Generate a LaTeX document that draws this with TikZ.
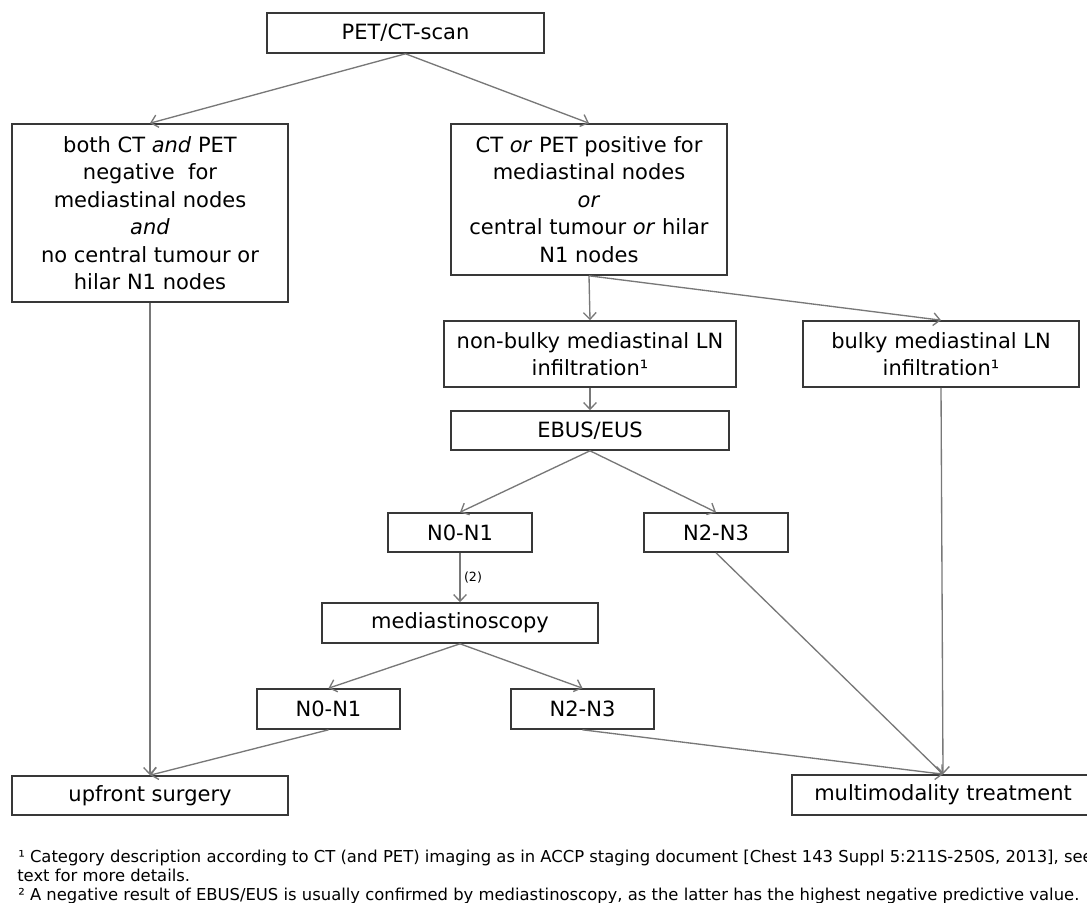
\documentclass[tikz,border=0pt]{standalone}
\usepackage{fontspec}
\setmainfont{DejaVu Sans}
\usetikzlibrary{arrows.meta}
\definecolor{boxline}{HTML}{383838}
\definecolor{arrowline}{HTML}{787878}
\begin{document}
\begin{tikzpicture}[x=0.75pt,y=-0.75pt,
  box/.style={draw=boxline, line width=1.2pt, inner sep=0pt, align=center,
    font=\fontsize{15.75pt}{20.6pt}\selectfont, text=black},
  wh/.style 2 args={minimum width=#1*0.75pt, minimum height=#2*0.75pt},
  conn/.style={draw=arrowline, line width=1pt, -{Straight Barb[length=5pt,width=9.5pt]}},
  foot/.style={anchor=base west, inner sep=0pt, font=\fontsize{12.3pt}{14.25pt}\selectfont, text=black},
  lbl/.style={font=\fontsize{9.5pt}{10pt}\selectfont, inner sep=2.5pt, text=black}]
\useasboundingbox (0,0) rectangle (1087,902);

\node[box, wh={277}{40}] (pet) at (405.5,33) {PET/CT-scan};
\node[box, wh={276}{178}] (left) at (150,213) {both CT \textit{and} PET\\negative\ \ for\\mediastinal nodes\\\textit{and}\\no central tumour or\\hilar N1 nodes};
\node[box, wh={276}{151}] (right) at (589,199.5) {CT \textit{or} PET positive for\\mediastinal nodes\\\textit{or}\\central tumour \textit{or} hilar\\N1 nodes};
\node[box, wh={292}{66}] (nonbulky) at (590,354) {non-bulky mediastinal LN\\infiltration¹};
\node[box, wh={276}{66}] (bulky) at (941,354) {bulky mediastinal LN\\infiltration¹};
\node[box, wh={278}{39}] (ebus) at (590,430.5) {EBUS/EUS};
\node[box, wh={144}{39}] (n01) at (460,532.5) {N0-N1};
\node[box, wh={144}{39}] (n23) at (716,532.5) {N2-N3};
\node[box, wh={276}{40}] (medi) at (460,623) {mediastinoscopy};
\node[box, wh={143}{40}] (n01b) at (328.5,709) {N0-N1};
\node[box, wh={143}{40}] (n23b) at (582.5,709) {N2-N3};
\node[box, wh={276}{39}] (upfront) at (150,795.5) {upfront surgery};
\node[box, wh={302}{40}] (multi) at (943,795) {multimodality treatment};

\draw[conn] (pet.south) -- (left.north);
\draw[conn] (pet.south) -- (right.north);
\draw[conn] (left.south) -- (upfront.north);
\draw[conn] (right.south) -- (nonbulky.north);
\draw[conn] (right.south) -- (bulky.north);
\draw[conn] (nonbulky.south) -- (ebus.north);
\draw[conn] (ebus.south) -- (n01.north);
\draw[conn] (ebus.south) -- (n23.north);
\draw[conn] (n01.south) -- node[lbl, right] (lab2) {(2)} (medi.north);
\draw[conn] (medi.south) -- (n01b.north);
\draw[conn] (medi.south) -- (n23b.north);
\draw[conn] (n01b.south) -- (upfront.north);
\draw[conn] (n23b.south) -- (multi.north);
\draw[conn] (n23.south) -- (multi.north);
\draw[conn] (bulky.south) -- (multi.north);

\node[foot] (fn1) at (18,862) {¹ Category description according to CT (and PET) imaging as in ACCP staging document [Chest 143 Suppl 5:211S-250S, 2013], see};
\node[foot] (fn2) at (17,881) {text for more details.};
\node[foot] (fn3) at (18,900) {² A negative result of EBUS/EUS is usually confirmed by mediastinoscopy, as the latter has the highest negative predictive value.};
\end{tikzpicture}
\end{document}
